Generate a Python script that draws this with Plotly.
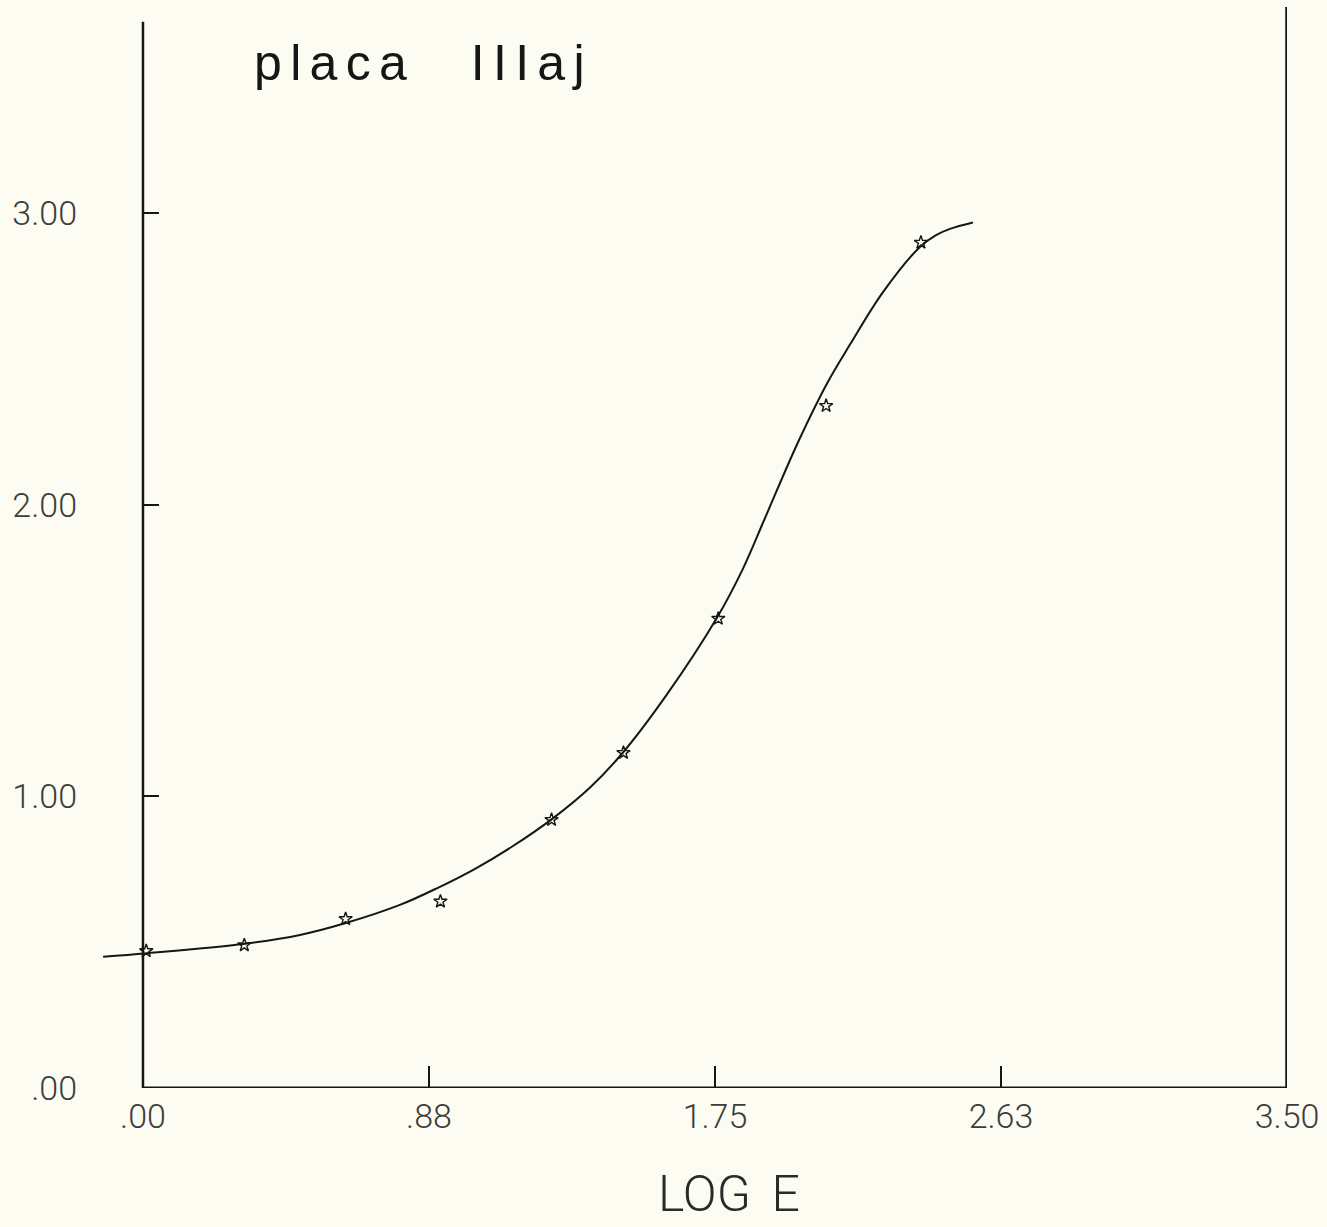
import plotly.graph_objects as go

# measured star points (LOG E, density)
log_e_points = [0.01, 0.31, 0.62, 0.91, 1.25, 1.47, 1.76, 2.09, 2.38]
density_points = [0.47, 0.49, 0.58, 0.64, 0.92, 1.15, 1.61, 2.34, 2.90]

# fitted characteristic curve
curve_x = [-0.122, 0.012, 0.312, 0.480, 0.618, 0.786, 0.899, 1.016, 1.132, 1.254,
           1.367, 1.468, 1.603, 1.756, 1.835, 1.903, 2.004, 2.092, 2.163, 2.264,
           2.377, 2.425, 2.469, 2.539]
curve_y = [0.450, 0.462, 0.495, 0.525, 0.565, 0.628, 0.685, 0.752, 0.830, 0.925,
           1.030, 1.150, 1.350, 1.613, 1.780, 1.955, 2.215, 2.415, 2.550, 2.730,
           2.885, 2.925, 2.947, 2.969]

x_tickvals = [0.0, 0.875, 1.75, 2.625, 3.5]
x_ticktext = [".00", ".88", "1.75", "2.63", "3.50"]
y_tickvals = [0.0, 1.0, 2.0, 3.0]
y_ticktext = [".00", "1.00", "2.00", "3.00"]

title_text = "p\u2006l\u2006a\u2006c\u2006a\u00a0\u00a0\u00a0\u00a0\u2006I\u2006I\u2006I\u2006a\u2006j"
x_title = "LOG\u2006 E"

X_MIN, X_MAX = -0.4374, 3.5
Y_MAX = 3.708
INK = "#161616"
BG = "#fcfcf3"

W, H = 1327, 1227
ML, MR, MT, MB = 0, 40, 7, 139

fig = go.Figure()
fig.add_trace(go.Scatter(x=curve_x, y=curve_y, mode="lines",
                         line=dict(color=INK, width=2, shape="spline", smoothing=1.0),
                         hoverinfo="skip", showlegend=False))
fig.add_trace(go.Scatter(x=log_e_points, y=density_points, mode="markers",
                         marker=dict(symbol="star-open", size=10, color=INK,
                                     line=dict(width=1.4, color=INK)),
                         showlegend=False, cliponaxis=False))

# frame lines (left axis, bottom axis, right border)
fig.add_shape(type="line", xref="x", yref="y", x0=0, x1=0, y0=0, y1=3.657,
              line=dict(color=INK, width=2.5))
fig.add_shape(type="line", xref="x", yref="y", x0=0, x1=3.5, y0=0, y1=0,
              line=dict(color=INK, width=3))
fig.add_shape(type="line", xref="x", yref="paper", x0=3.5, x1=3.5, y0=0, y1=1,
              line=dict(color=INK, width=3.5))

tick_font = dict(family="Roboto, Liberation Sans, sans-serif", size=34, color="#3c3c3c", weight=300)

fig.update_layout(
    width=W, height=H,
    margin=dict(l=ML, r=MR, t=MT, b=MB),
    paper_bgcolor=BG, plot_bgcolor=BG,
    xaxis=dict(range=[X_MIN, X_MAX], showgrid=False, zeroline=False, showline=False,
               tickmode="array", tickvals=x_tickvals, ticktext=x_ticktext,
               ticks="inside", ticklen=22, tickwidth=2, tickcolor=INK,
               tickfont=tick_font, ticklabelstandoff=5),
    yaxis=dict(range=[0, Y_MAX], showgrid=False, zeroline=False, showline=False,
               anchor="free", position=143 / (W - ML - MR),
               tickmode="array", tickvals=y_tickvals, ticktext=y_ticktext,
               ticks="inside", ticklen=15, tickwidth=1.5, tickcolor=INK,
               tickfont=tick_font, ticklabelstandoff=66),
    showlegend=False,
)

fig.add_annotation(x=0.333, y=3.516, xref="x", yref="y", text=title_text,
                   showarrow=False, xanchor="left", yanchor="middle",
                   font=dict(family="Liberation Sans, Arial, sans-serif", size=50, color="#161616"))

# LOG E label: bottom of its text box placed just above the page bottom
plot_w = W - ML - MR
plot_h = H - MT - MB
fig.add_annotation(x=(729 - ML) / plot_w, y=(H - MB - 1225) / plot_h,
                   xref="paper", yref="paper", text=x_title,
                   showarrow=False, xanchor="center", yanchor="bottom",
                   font=dict(family="Roboto, Liberation Sans, sans-serif",
                             size=50, color="#2a2a2a", weight=300))

fig.write_html("out.html", config={"displayModeBar": False},
               post_script="document.body.style.margin='0px';document.body.style.overflow='hidden';")
